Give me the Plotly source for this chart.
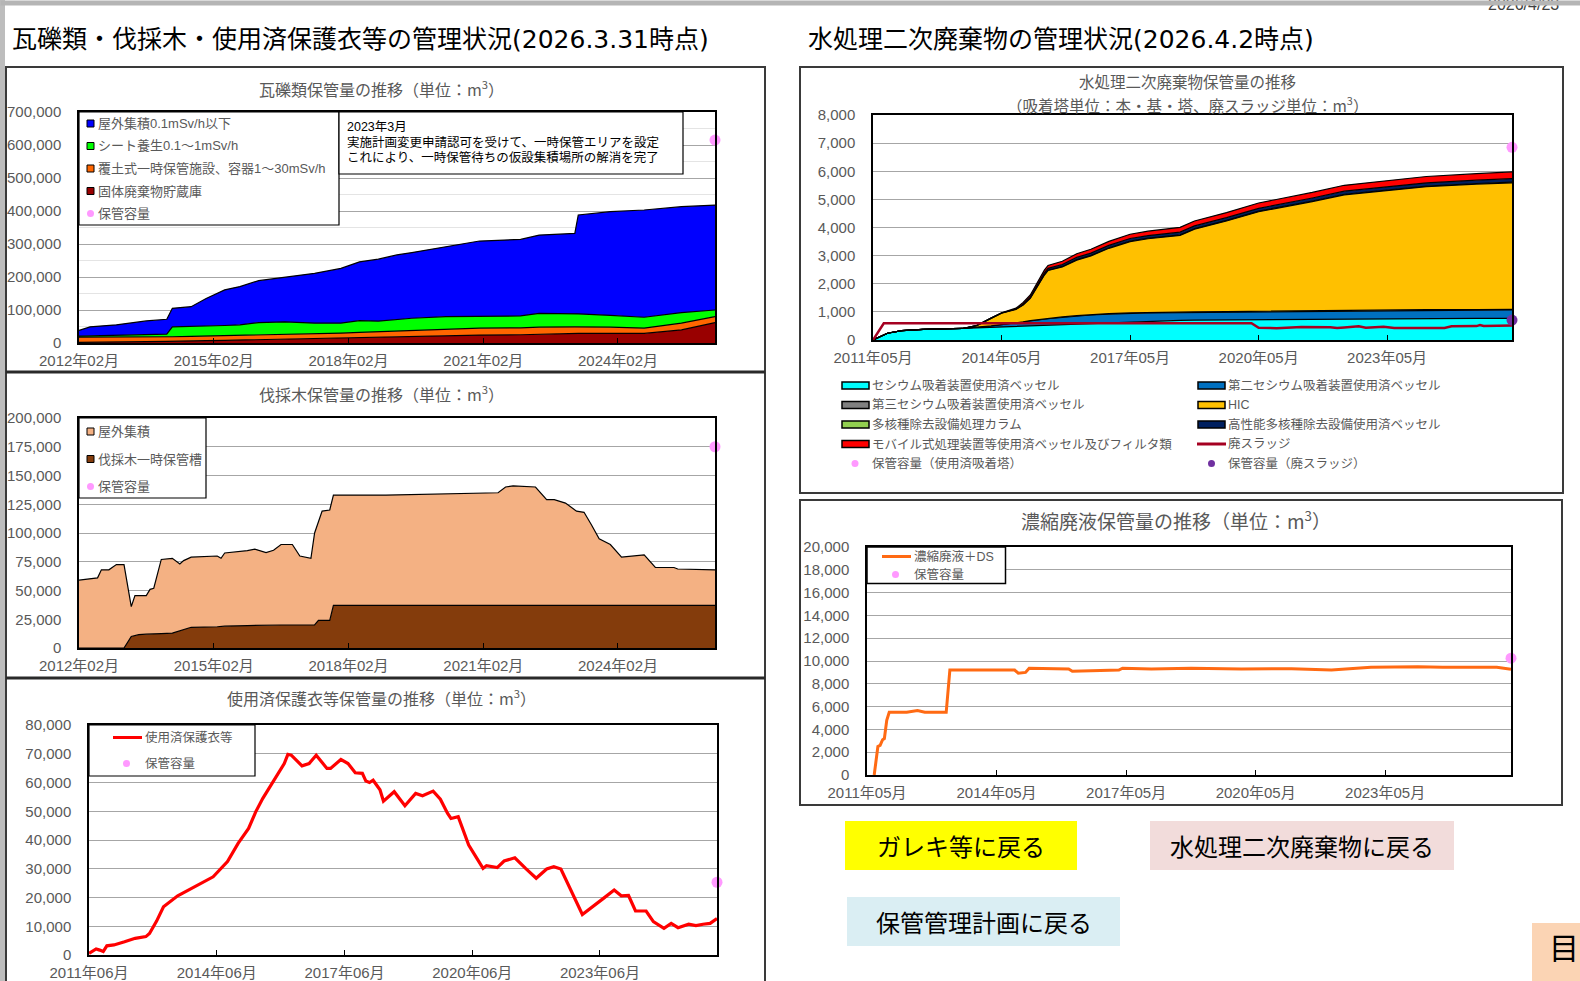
import plotly.graph_objects as go

W, H = 1580, 981
FONT_MIX = "Liberation Sans, Noto Sans CJK JP"
FONT_CJK = "Noto Sans CJK JP"
FONT_HEAD = "DejaVu Sans, Noto Sans CJK JP"
GRAY = "#595959"
PINK = "#FF99FF"

# ---------------- Chart 1: rubble (瓦礫類) ----------------
rubble_dates = ["2012-02-01", "2012-05-01", "2012-12-01", "2013-08-01", "2014-01-15", "2014-03-01",
                "2014-08-01", "2014-12-01", "2015-05-01", "2015-09-01", "2016-02-01", "2016-09-01",
                "2017-05-01", "2017-12-01", "2018-05-01", "2018-10-01", "2019-03-01", "2019-07-01",
                "2020-04-01", "2021-01-01", "2021-12-01", "2022-05-01", "2023-02-15", "2023-03-15",
                "2023-12-01", "2024-09-01", "2025-07-01", "2026-03-31"]
rubble_solid = [2000, 2000, 3000, 4000, 5000, 5000, 6000, 7000, 8000, 9000, 10000, 11000, 13000, 15000,
                17000, 19000, 20000, 21000, 22000, 24000, 25000, 27000, 29000, 29000, 29000, 29000, 40000, 62000]
rubble_cover = [16000, 16000, 14000, 14000, 14000, 14000, 14000, 14000, 14000, 14000, 13000, 13000, 14000,
                15000, 15000, 15000, 17000, 18000, 20000, 21000, 21000, 21000, 20000, 20000, 19000, 16000,
                20000, 18000]
rubble_sheet = [3000, 4000, 6000, 7000, 8000, 30000, 30000, 30000, 31000, 32000, 39000, 40000, 33000, 30000,
                36000, 32000, 33000, 36000, 38000, 36000, 36000, 42000, 40000, 39000, 36000, 33000, 32000, 20000]
rubble_outdoor = [17000, 27000, 32000, 42000, 45000, 56000, 60000, 84000, 108000, 116000, 127000, 135000,
                  151000, 166000, 178000, 188000, 197000, 199000, 212000, 228000, 232000, 237000, 243000,
                  300000, 314000, 325000, 321000, 318000]
rubble_capacity = 615000
rubble_series = ["固体廃棄物貯蔵庫", "覆土式一時保管施設、容器1～30mSv/h", "シート養生0.1～1mSv/h", "屋外集積0.1mSv/h以下"]

# ---------------- Chart 2: felled trees (伐採木) ----------------
wood_dates = ["2012-02-01", "2012-07-01", "2012-08-01", "2012-10-01", "2012-12-01", "2013-02-01", "2013-04-01",
              "2013-05-01", "2013-06-01", "2013-08-01", "2013-09-01", "2013-10-01", "2013-12-01", "2014-03-01",
              "2014-05-01", "2014-06-01", "2014-08-01", "2015-03-01", "2015-04-01", "2015-05-01", "2015-11-01",
              "2016-01-01", "2016-04-01", "2016-06-01", "2016-08-01", "2016-11-01", "2017-01-01", "2017-04-01",
              "2017-05-01", "2017-06-01", "2017-07-01", "2017-09-01", "2017-10-01", "2018-12-01", "2021-06-01",
              "2021-08-01", "2021-10-01", "2022-04-01", "2022-07-01", "2022-09-01", "2022-12-01", "2023-03-01",
              "2023-05-01", "2023-07-01", "2023-09-01", "2023-12-01", "2024-03-01", "2024-09-01", "2024-12-01",
              "2025-05-01", "2025-06-01", "2026-03-31"]
wood_pit = [0, 0, 0, 0, 0, 0, 10000, 11000, 11600, 12000, 12000, 12000, 12500, 13000, 15000, 16500, 18000,
            18500, 18700, 19000, 19500, 19700, 20000, 20000, 20000, 20000, 20000, 20000, 20000, 24000, 24000,
            24000, 37000, 37000, 37000, 37000, 37000, 37000, 37000, 37000, 37000, 37000, 37000, 37000, 37000,
            37000, 37000, 37000, 37000, 37000, 37000, 37000]
wood_outdoor = [59000, 61000, 68000, 68000, 72500, 72500, 26000, 34500, 33900, 33500, 39000, 40000, 64500,
                65000, 58000, 59500, 61000, 61500, 59300, 63600, 65100, 66300, 63000, 65000, 70000, 70000,
                60000, 58000, 80000, 86000, 95000, 96000, 96000, 96000, 98000, 103000, 104000, 103000, 92000,
                92000, 89000, 82000, 81000, 70000, 58000, 53000, 42000, 44000, 33000, 33000, 31700, 31000]
wood_capacity = 175000

# ---------------- Chart 3: used protective clothing ----------------
cloth_dates = ["2011-06", "2011-08", "2011-09", "2011-10", "2011-11", "2012-01", "2012-04", "2012-07", "2012-10",
               "2012-11", "2013-01", "2013-03", "2013-07", "2013-10", "2014-01", "2014-05", "2014-09", "2014-12",
               "2015-03", "2015-05", "2015-07", "2015-11", "2016-01", "2016-02", "2016-03", "2016-06", "2016-08",
               "2016-10", "2016-11", "2017-01", "2017-02", "2017-04", "2017-05", "2017-07", "2017-09", "2017-11",
               "2017-12", "2018-01", "2018-02", "2018-04", "2018-05", "2018-08", "2018-11", "2019-02", "2019-04",
               "2019-07", "2019-09", "2019-11", "2019-12", "2020-02", "2020-05", "2020-07", "2020-09", "2020-10",
               "2021-01", "2021-03", "2021-06", "2021-09", "2021-12", "2022-03", "2022-05", "2022-07", "2023-01",
               "2023-07", "2023-10", "2023-12", "2024-02", "2024-04", "2024-07", "2024-09", "2024-12", "2025-02",
               "2025-04", "2025-07", "2025-09", "2025-11", "2026-01", "2026-03"]
cloth_vals = [600, 2100, 1700, 1200, 3200, 3500, 4600, 5800, 6400, 7500, 11800, 16800, 20600, 22600, 24700,
              27200, 32500, 38800, 44000, 49800, 54500, 62600, 66600, 69800, 69500, 65800, 66600, 69500, 67800,
              64900, 64900, 67200, 68000, 66600, 63400, 63200, 60500, 60000, 60800, 57500, 53500, 56800, 51900,
              56200, 55400, 57000, 54200, 49300, 47500, 48100, 38200, 34200, 30100, 31100, 30400, 32700, 33800,
              30100, 26700, 29900, 30700, 29900, 14100, 19700, 22600, 20600, 20700, 15300, 15300, 11600, 9300,
              11000, 9500, 10700, 10200, 10700, 11000, 12700]
cloth_capacity = 25300

# ---------------- Chart 4: water-treatment secondary waste ----------------
water_dates = ["2011-05-01", "2011-07-01", "2011-09-01", "2012-01-01", "2012-07-01", "2013-06-01", "2013-10-01",
               "2014-02-01", "2014-05-01", "2014-09-01", "2014-11-01", "2015-01-01", "2015-03-01", "2015-05-01",
               "2015-06-01", "2015-10-01", "2016-02-01", "2016-06-01", "2016-11-01", "2017-05-01", "2017-10-01",
               "2018-07-01", "2018-11-01", "2019-08-01", "2020-05-01", "2020-10-01", "2021-08-01", "2022-05-01",
               "2023-02-01", "2024-04-01", "2025-06-01", "2026-03-31"]
cesium = [0, 120, 240, 330, 380, 410, 430, 445, 460, 475, 490, 500, 510, 520, 525, 540, 560, 590, 620, 650, 670,
          700, 705, 715, 725, 730, 740, 745, 755, 762, 768, 772]
cesium2 = [0, 0, 0, 0, 0, 0, 20, 60, 90, 130, 150, 180, 200, 220, 235, 265, 290, 305, 300, 295, 290, 275, 275,
           275, 280, 280, 282, 285, 290, 295, 295, 298]
cesium3 = [0, 0, 0, 0, 0, 0, 0, 0, 0, 0, 5, 10, 12, 15, 15, 15, 15, 15, 20, 20, 20, 20, 20, 20, 20, 20, 20, 20,
           20, 20, 20, 20]
hic = [0, 0, 0, 0, 0, 0, 60, 265, 400, 485, 595, 790, 1178, 1555, 1695, 1780, 1975, 2080, 2320, 2535, 2620,
       2725, 2940, 3220, 3535, 3650, 3878, 4110, 4215, 4373, 4457, 4500]
alps_column = [0, 0, 0, 0, 0, 0, 5, 8, 10, 12, 13, 14, 15, 15, 15, 16, 17, 18, 19, 20, 20, 20, 21, 21, 22, 22,
               23, 23, 24, 24, 25, 25]
hp_alps = [0, 0, 0, 0, 0, 0, 0, 0, 0, 0, 20, 30, 45, 60, 62, 68, 80, 82, 85, 90, 92, 95, 96, 98, 100, 102, 105,
           108, 110, 114, 117, 120]
mobile = [0, 0, 0, 0, 0, 0, 0, 5, 10, 30, 60, 75, 90, 100, 105, 115, 130, 135, 142, 150, 158, 170, 173, 180,
          190, 193, 200, 210, 215, 225, 232, 240]
sludge_dates = ["2011-05-01", "2011-08-01", "2020-03-01", "2020-05-01", "2020-10-01", "2021-05-01", "2022-01-01",
                "2022-03-01", "2022-05-01", "2022-09-01", "2022-11-01", "2023-04-01", "2023-07-01", "2023-12-01",
                "2024-09-01", "2024-11-01", "2025-06-01", "2025-07-01", "2025-08-01", "2026-03-31"]
sludge = [0, 597, 597, 435, 420, 460, 455, 425, 445, 485, 440, 475, 425, 430, 430, 490, 495, 530, 495, 520]
vessel_capacity = 6850
sludge_capacity = 710

# ---------------- Chart 5: concentrated liquid waste ----------------
conc_dates = ["2011-07-01", "2011-08-01", "2011-08-20", "2011-09-10", "2011-09-25", "2011-10-15", "2011-11-05",
              "2012-04-01", "2012-07-01", "2012-09-01", "2013-03-01", "2013-04-01", "2014-10-01", "2014-11-01",
              "2015-01-01", "2015-02-01", "2016-01-01", "2016-02-01", "2017-03-01", "2017-04-01", "2017-12-01",
              "2018-11-01", "2020-01-01", "2021-03-01", "2022-02-01", "2023-01-01", "2024-02-01", "2024-09-01",
              "2025-12-01", "2026-03-31"]
conc_vals = [0, 2500, 2600, 3100, 3200, 4800, 5500, 5500, 5650, 5500, 5500, 9200, 9200, 8930, 9000, 9370, 9300,
             9100, 9200, 9370, 9300, 9370, 9300, 9330, 9200, 9460, 9500, 9450, 9450, 9280]
conc_capacity = 10250

# ======================================================================
fig = go.Figure()
shapes, annotations = [], []


def dom_x(a, b):
    return [a / W, b / W]


def dom_y(top, bottom):
    return [1 - bottom / H, 1 - top / H]


def rect(x0, y0, x1, y1, fill=None, line_color="black", lw=1.0):
    shapes.append(dict(type="rect", xref="paper", yref="paper", x0=x0 / W, x1=x1 / W, y0=1 - y1 / H,
                       y1=1 - y0 / H, fillcolor=fill if fill else "rgba(0,0,0,0)",
                       line=dict(color=line_color, width=lw), layer="above"))


def hline(x0, x1, y, color, lw):
    shapes.append(dict(type="line", xref="paper", yref="paper", x0=x0 / W, x1=x1 / W, y0=1 - y / H,
                       y1=1 - y / H, line=dict(color=color, width=lw), layer="above"))


def dot(x, y, r, color):
    shapes.append(dict(type="circle", xref="paper", yref="paper", x0=(x - r) / W, x1=(x + r) / W,
                       y0=1 - (y + r) / H, y1=1 - (y - r) / H, fillcolor=color, line=dict(width=0),
                       layer="above"))


def text(x, y, s, size, color=GRAY, xanchor="left", family=FONT_MIX):
    annotations.append(dict(xref="paper", yref="paper", x=x / W, y=1 - y / H, text=s, showarrow=False,
                            xanchor=xanchor, yanchor="middle", align="left",
                            font=dict(size=size, color=color, family=family)))


def area(x, y, color, group, xa, ya, name):
    fig.add_trace(go.Scatter(x=x, y=y, stackgroup=group, mode="lines", name=name,
                             line=dict(color="black", width=1.2), fillcolor=color,
                             xaxis=xa, yaxis=ya, showlegend=False, hoverinfo="skip"))


def cap_point(x, y, color, xa, ya):
    fig.add_trace(go.Scatter(x=[x], y=[y], mode="markers", marker=dict(size=11, color=color),
                             cliponaxis=False, xaxis=xa, yaxis=ya, showlegend=False, hoverinfo="skip"))


# ---- traces ----
for vals, col, nm in zip([rubble_solid, rubble_cover, rubble_sheet, rubble_outdoor],
                         ["#990000", "#FF6600", "#00FF00", "#0000FF"], rubble_series):
    area(rubble_dates, vals, col, "g1", "x", "y", nm)
cap_point(rubble_dates[-1], rubble_capacity, PINK, "x", "y")

area(wood_dates, wood_pit, "#843C0C", "g2", "x2", "y2", "伐採木一時保管槽")
area(wood_dates, wood_outdoor, "#F4B183", "g2", "x2", "y2", "屋外集積")
cap_point(wood_dates[-1], wood_capacity, PINK, "x2", "y2")

fig.add_trace(go.Scatter(x=cloth_dates, y=cloth_vals, mode="lines", line=dict(color="#FF0000", width=3.2),
                         xaxis="x3", yaxis="y3", showlegend=False, hoverinfo="skip", name="使用済保護衣等"))
cap_point(cloth_dates[-1], cloth_capacity, PINK, "x3", "y3")

for vals, col, nm in zip([cesium, cesium2, cesium3, hic, alps_column, hp_alps, mobile],
                         ["#00FFFF", "#0070C0", "#808080", "#FFC000", "#92D050", "#002060", "#FF0000"],
                         ["セシウム", "第二セシウム", "第三セシウム", "HIC", "多核種", "高性能", "モバイル"]):
    area(water_dates, vals, col, "g4", "x4", "y4", nm)
fig.add_trace(go.Scatter(x=sludge_dates, y=sludge, mode="lines", line=dict(color="#A50021", width=2.5),
                         xaxis="x4", yaxis="y4", showlegend=False, hoverinfo="skip", name="廃スラッジ"))
cap_point(water_dates[-1], vessel_capacity, PINK, "x4", "y4")
cap_point(water_dates[-1], sludge_capacity, "#7030A0", "x4", "y4")

fig.add_trace(go.Scatter(x=conc_dates, y=conc_vals, mode="lines", line=dict(color="#FF6A13", width=3),
                         xaxis="x5", yaxis="y5", showlegend=False, hoverinfo="skip", name="濃縮廃液＋DS"))
cap_point(conc_dates[-1], conc_capacity, PINK, "x5", "y5")

# ---- axes ----
tickfont = dict(family=FONT_MIX, size=15, color=GRAY)


def xaxis_cfg(dom, anchor, rng, tick0):
    return dict(domain=dom, anchor=anchor, type="date", range=rng, tick0=tick0, dtick="M36",
                tickformat="%Y年%m月", tickfont=tickfont, showgrid=False, showline=True,
                linecolor="black", linewidth=1.5, mirror=True, ticks="inside", ticklen=5,
                tickcolor="black", zeroline=False, ticklabelstandoff=3, automargin=False)


def yaxis_cfg(dom, anchor, rng, dtick, gridcolor="#A6A6A6"):
    return dict(domain=dom, anchor=anchor, range=rng, dtick=dtick, tick0=0, tickformat=",d",
                tickfont=tickfont, showgrid=True, gridcolor=gridcolor, gridwidth=1, showline=True,
                linecolor="black", linewidth=1.5, mirror=True, ticks="", ticklabelstandoff=13,
                zeroline=False, automargin=False)


layout_axes = dict(
    xaxis=xaxis_cfg(dom_x(79, 715), "y", ["2012-02-01", "2026-03-31"], "2012-02-01"),
    yaxis=dict(yaxis_cfg(dom_y(112, 343), "x", [0, 700000], 100000),
               minor=dict(dtick=50000, showgrid=True, gridcolor="#E4E4E4", ticks="")),
    xaxis2=xaxis_cfg(dom_x(79, 715), "y2", ["2012-02-01", "2026-03-31"], "2012-02-01"),
    yaxis2=yaxis_cfg(dom_y(418, 648), "x2", [0, 200000], 25000),
    xaxis3=xaxis_cfg(dom_x(89, 717), "y3", ["2011-06-01", "2026-03-01"], "2011-06-01"),
    yaxis3=yaxis_cfg(dom_y(725, 955), "x3", [0, 80000], 10000),
    xaxis4=xaxis_cfg(dom_x(873, 1512), "y4", ["2011-05-01", "2026-03-31"], "2011-05-01"),
    yaxis4=yaxis_cfg(dom_y(115, 340), "x4", [0, 8000], 1000),
    xaxis5=xaxis_cfg(dom_x(867, 1511), "y5", ["2011-05-01", "2026-03-31"], "2011-05-01"),
    yaxis5=yaxis_cfg(dom_y(547, 775), "x5", [0, 20000], 2000),
)

# ---- page frame ----
shapes.append(dict(type="rect", xref="paper", yref="paper", x0=0, x1=5 / W, y0=0, y1=1,
                   fillcolor="#BDBDBD", line=dict(width=0), layer="above"))
rect(6, 67, 765, 990, None, "#3A3A3A", 2)
hline(6, 765, 372, "#2A2A2A", 3)
hline(6, 765, 678, "#2A2A2A", 3)
rect(800, 67, 1563, 493, None, "#3A3A3A", 2)
rect(800, 500, 1562, 805, None, "#3A3A3A", 2)

# ---- headers ----
text(10, 40, "瓦礫類・伐採木・使用済保護衣等の管理状況(2026.3.31時点)", 25, "#000000", family=FONT_HEAD)
text(806, 40, "水処理二次廃棄物の管理状況(2026.4.2時点)", 25, "#000000", family=FONT_HEAD)
text(1561, 5, "2026/4/23", 16, "#404040", xanchor="right", family=FONT_MIX)
annotations.append(dict(xref="paper", yref="paper", x=0, y=1, xanchor="left", yanchor="top", text=" ",
                        showarrow=False, width=W, height=4, bgcolor="#B5B5B5", borderpad=0,
                        font=dict(size=2)))

# ---- chart titles ----
text(381, 89, "瓦礫類保管量の推移（単位：m<sup>3</sup>）", 16, GRAY, xanchor="center", family=FONT_CJK)
text(381, 393, "伐採木保管量の推移（単位：m<sup>3</sup>）", 16, GRAY, xanchor="center", family=FONT_CJK)
text(381, 697, "使用済保護衣等保管量の推移（単位：m<sup>3</sup>）", 16, GRAY, xanchor="center", family=FONT_CJK)
text(1187, 81, "水処理二次廃棄物保管量の推移", 15.5, GRAY, xanchor="center", family=FONT_CJK)
text(1187, 104, "（吸着塔単位：本・基・塔、廃スラッジ単位：m<sup>3</sup>）", 15.5, GRAY, xanchor="center",
     family=FONT_CJK)
text(1176, 520, "濃縮廃液保管量の推移（単位：m<sup>3</sup>）", 19, GRAY, xanchor="center", family=FONT_CJK)

# ---- chart 1 legend & note ----
rect(79, 112, 339, 225, "white", "black", 1.2)
leg1 = [("#0000FF", rubble_series[3]), ("#00FF00", rubble_series[2]), ("#FF6600", rubble_series[1]),
        ("#990000", rubble_series[0])]
rows1 = [123.5, 146, 168.5, 191]
for (c, s), yy in zip(leg1, rows1):
    rect(87, yy - 3.5, 94, yy + 3.5, c, "black", 1)
    text(95.5, yy, s, 13)
dot(90.5, 213.5, 3.5, PINK)
text(95.5, 213.5, "保管容量", 13)
rect(339, 112, 683, 174, "white", "black", 1.2)
text(345, 127, "2023年3月", 12.5, "#000000")
text(345, 143, "実施計画変更申請認可を受けて、一時保管エリアを設定", 12.5, "#000000")
text(345, 158, "これにより、一時保管待ちの仮設集積場所の解消を完了", 12.5, "#000000")

# ---- chart 2 legend ----
rect(79, 418, 206, 498, "white", "black", 1.2)
for (c, s), yy in zip([("#F4B183", "屋外集積"), ("#843C0C", "伐採木一時保管槽")], [431.5, 459]):
    rect(87, yy - 3.5, 94, yy + 3.5, c, "black", 1)
    text(95.5, yy, s, 13)
dot(90.5, 486.5, 3.5, PINK)
text(95.5, 486.5, "保管容量", 13)

# ---- chart 3 legend ----
rect(89, 725, 255, 776, "white", "black", 1.2)
hline(113, 142, 737.5, "#FF0000", 3)
text(143, 737.5, "使用済保護衣等", 12.5)
dot(126.5, 763.5, 3.5, PINK)
text(143, 763.5, "保管容量", 12.5)

# ---- chart 4 legend ----
left_items = [("#00FFFF", "セシウム吸着装置使用済ベッセル"), ("#808080", "第三セシウム吸着装置使用済ベッセル"),
              ("#92D050", "多核種除去設備処理カラム"), ("#FF0000", "モバイル式処理装置等使用済ベッセル及びフィルタ類")]
right_items = [("#0070C0", "第二セシウム吸着装置使用済ベッセル"), ("#FFC000", "HIC"),
               ("#002060", "高性能多核種除去設備使用済ベッセル")]
rows4 = [385.5, 405, 424.5, 444]
for (c, s), yy in zip(left_items, rows4):
    rect(842, yy - 3.5, 869, yy + 3.5, c, "black", 1.5)
    text(869.5, yy, s, 12.5)
for (c, s), yy in zip(right_items, rows4[:3]):
    rect(1198, yy - 3.5, 1225, yy + 3.5, c, "black", 1.5)
    text(1225.5, yy, s, 12.5)
hline(1197, 1226, 444, "#A50021", 3)
text(1225.5, 444, "廃スラッジ", 12.5)
dot(855, 463.5, 3.5, PINK)
text(869.5, 463.5, "保管容量（使用済吸着塔）", 12.5)
dot(1211.5, 463.5, 3.5, "#7030A0")
text(1225.5, 463.5, "保管容量（廃スラッジ）", 12.5)

# ---- chart 5 legend ----
rect(867, 547, 1005.5, 583.5, "white", "black", 1.5)
hline(882, 911, 556.5, "#FF6A13", 3)
text(911.5, 556.5, "濃縮廃液＋DS", 12.5)
dot(895.5, 574.5, 3.5, PINK)
text(911.5, 574.5, "保管容量", 12.5)

# ---- buttons ----
rect(845, 821, 1077, 870, "#FFFF00", "#FFFF00", 0)
text(961, 845, "ガレキ等に戻る", 24, "#000000", xanchor="center", family=FONT_CJK)
rect(1150, 821, 1454, 870, "#F2DCDB", "#F2DCDB", 0)
text(1302, 845, "水処理二次廃棄物に戻る", 24, "#000000", xanchor="center", family=FONT_CJK)
rect(847, 897, 1120, 946, "#DAEEF3", "#DAEEF3", 0)
text(983.5, 921, "保管管理計画に戻る", 24, "#000000", xanchor="center", family=FONT_CJK)
rect(1532, 923, 1582, 983, "#FBD4B4", "#FBD4B4", 0)
text(1547, 946, "目", 30, "#000000", xanchor="left", family=FONT_CJK)

fig.update_layout(width=W, height=H, autosize=False, margin=dict(l=0, r=0, t=0, b=0, pad=0),
                  paper_bgcolor="white", plot_bgcolor="white", showlegend=False, shapes=shapes,
                  annotations=annotations, **layout_axes)

fig.write_html("out.html", config={"displayModeBar": False},
               post_script="document.body.style.margin='0';document.body.style.overflow='hidden';")
